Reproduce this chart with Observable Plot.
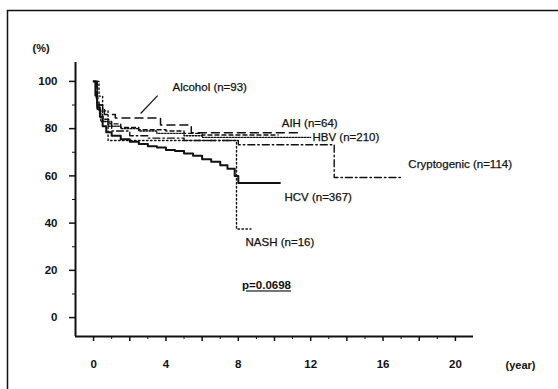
<!DOCTYPE html>
<html>
<head>
<meta charset="utf-8">
<script src="https://cdn.jsdelivr.net/npm/d3@7"></script>
<script src="https://cdn.jsdelivr.net/npm/@observablehq/plot@0.6"></script>
<style>
  html, body { margin: 0; padding: 0; background: #fff; overflow: hidden; }
  #chart { position: relative; width: 558px; height: 389px; }
  .pval text { text-decoration: underline; }
</style>
</head>
<body>
<div id="chart"></div>
<script>
// ---- Data ----
// Kaplan-Meier style survival curves: years and survival (%)
const hcvYears   = [0, 0.1, 0.2, 0.35, 0.5, 0.7, 1, 1.5, 2, 2.5, 3, 3.5, 4, 4.5, 5, 5.5, 6, 6.5, 7, 7.4, 7.8, 8, 10.3];
const hcvSurv    = [100, 94, 89, 85, 81, 78.5, 77, 75.5, 74.5, 73.5, 72.5, 72, 71, 70.5, 69.5, 68.5, 67, 66, 64.5, 63, 60, 57, 57];

const alcYears   = [0, 0.15, 0.3, 0.6, 1.2, 3.7, 5.4, 11.5];
const alcSurv    = [100, 93, 88, 86, 84.5, 81.5, 78.3, 78.3];

const aihYears   = [0, 0.2, 0.5, 0.9, 1.5, 2.5, 4, 5, 6, 10.2];
const aihSurv    = [100, 90, 84, 82, 80.5, 79.5, 79, 78, 77.3, 77.3];

const hbvYears   = [0, 0.2, 0.4, 0.8, 1.5, 2.5, 3.5, 5, 6, 12];
const hbvSurv    = [100, 88, 83, 81, 80, 79, 78, 77, 76.3, 76.3];

const cryYears   = [0, 0.2, 0.5, 1, 2, 3, 5, 8, 13.3, 17];
const crySurv    = [100, 90, 83, 79, 77, 76, 75, 73.2, 59.3, 59.3];

const nashYears  = [0, 0.3, 0.5, 0.8, 7.9, 8.7];
const nashSurv   = [100, 93.75, 87.5, 75, 37.5, 37.5];

// Axis ticks
const yTicks      = [0, 20, 40, 60, 80, 100];
const yMinorTicks = [10, 30, 50, 70, 90];
const xLabelTicks = [0, 4, 8, 12, 16, 20];
const xMajorTicks = [0, 2, 4, 6, 8, 10, 12, 14, 16, 18, 20];
const xMinorTicks = [1, 3, 5, 7, 9, 11, 13, 15, 17, 19];

// Group labels
const groupNames  = ["Alcohol (n=93)", "AIH (n=64)", "HBV (n=210)", "Cryptogenic (n=114)", "HCV (n=367)", "NASH (n=16)"];
const pValueText  = "p=0.0698";

// ---- Build tables ----
const toRows = (ts, ss) => ts.map((t, i) => ({t, s: ss[i]}));
const hcv = toRows(hcvYears, hcvSurv);
const alc = toRows(alcYears, alcSurv);
const aih = toRows(aihYears, aihSurv);
const hbv = toRows(hbvYears, hbvSurv);
const cry = toRows(cryYears, crySurv);
const nash = toRows(nashYears, nashSurv);

const FONT = "'Liberation Sans', Arial, sans-serif";
const ink = "#111";

const labels = [
  {t: 4.36, s: 97.5, text: groupNames[0]},
  {t: 10.4, s: 82.2, text: groupNames[1]},
  {t: 12.1, s: 76.3, text: groupNames[2]},
  {t: 17.4, s: 64.8, text: groupNames[3]},
  {t: 10.55, s: 50.8, text: groupNames[4]},
  {t: 8.4, s: 31.8, text: groupNames[5]}
];

const chart = Plot.plot({
  width: 558,
  height: 389,
  marginLeft: 75,
  marginRight: 85,
  marginTop: 62,
  marginBottom: 53,
  style: {fontFamily: FONT, background: "#fff", color: ink, overflow: "visible"},
  x: {domain: [-1, 21], axis: null},
  y: {domain: [-8, 108], axis: null},
  marks: [
    // axis lines
    Plot.ruleX([-1], {y1: -8, y2: 108, stroke: ink, strokeWidth: 2}),
    Plot.ruleY([-8], {x1: -1, x2: 21, stroke: ink, strokeWidth: 2}),
    // y ticks
    Plot.axisY({ticks: yTicks, tickSize: 6, tickPadding: 12, fontSize: 11.5, fontWeight: "bold", label: null, stroke: ink, strokeWidth: 1.5}),
    Plot.axisY({ticks: yMinorTicks, tickSize: 3, tickFormat: () => "", label: null, stroke: ink}),
    // x ticks
    Plot.axisX({ticks: xMajorTicks, tickSize: 5, tickFormat: () => "", label: null, stroke: ink, strokeWidth: 1.5}),
    Plot.axisX({ticks: xMinorTicks, tickSize: 3, tickFormat: () => "", label: null, stroke: ink}),
    Plot.axisX({ticks: xLabelTicks, tickSize: 0, tickPadding: 23, fontSize: 11.5, fontWeight: "bold", label: null}),
    // curves
    Plot.line(nash, {x: "t", y: "s", curve: "step-after", stroke: ink, strokeWidth: 1.4, strokeDasharray: "1.5,2.5"}),
    Plot.line(cry, {x: "t", y: "s", curve: "step-after", stroke: ink, strokeWidth: 1.4, strokeDasharray: "7,3,1.5,3"}),
    Plot.line(hbv, {x: "t", y: "s", curve: "step-after", stroke: ink, strokeWidth: 1.4, strokeDasharray: "1.5,1.5"}),
    Plot.line(aih, {x: "t", y: "s", curve: "step-after", stroke: ink, strokeWidth: 1.4, strokeDasharray: "4,3"}),
    Plot.line(alc, {x: "t", y: "s", curve: "step-after", stroke: ink, strokeWidth: 1.5, strokeDasharray: "8,5"}),
    Plot.line(hcv, {x: "t", y: "s", curve: "step-after", stroke: ink, strokeWidth: 2}),
    // alcohol leader line
    Plot.link([{x1: 3.54, y1: 94, x2: 2.6, y2: 86.4}], {x1: "x1", y1: "y1", x2: "x2", y2: "y2", stroke: ink, strokeWidth: 1.2}),
    // group labels
    Plot.text(labels, {x: "t", y: "s", text: "text", textAnchor: "start", fontSize: 11.5, fill: ink, stroke: ink, strokeWidth: 0.25}),
    // p value
    Plot.text([pValueText], {x: 9.56, y: 13.5, text: d => d, fontSize: 11.5, fontWeight: "bold", fill: ink, className: "pval"}),
    // axis titles
    Plot.text(["(%)"], {x: -2.9, y: 114, text: d => d, fontSize: 11, fontWeight: "bold", fill: ink}),
    Plot.text(["(year)"], {x: 23.6, y: -20.3, text: d => d, fontSize: 11, fontWeight: "bold", fill: ink})
  ]
});

document.getElementById("chart").appendChild(chart);
// ensure the p-value is underlined
d3.select(chart).selectAll("text")
  .filter(function() { return this.textContent === pValueText; })
  .style("text-decoration", "underline");
// outer border frame of the figure
d3.select(chart).append("rect")
  .attr("x", 7.5).attr("y", 10.5).attr("width", 560).attr("height", 400)
  .attr("fill", "none").attr("stroke", ink).attr("stroke-width", 1.5);
</script>
</body>
</html>
